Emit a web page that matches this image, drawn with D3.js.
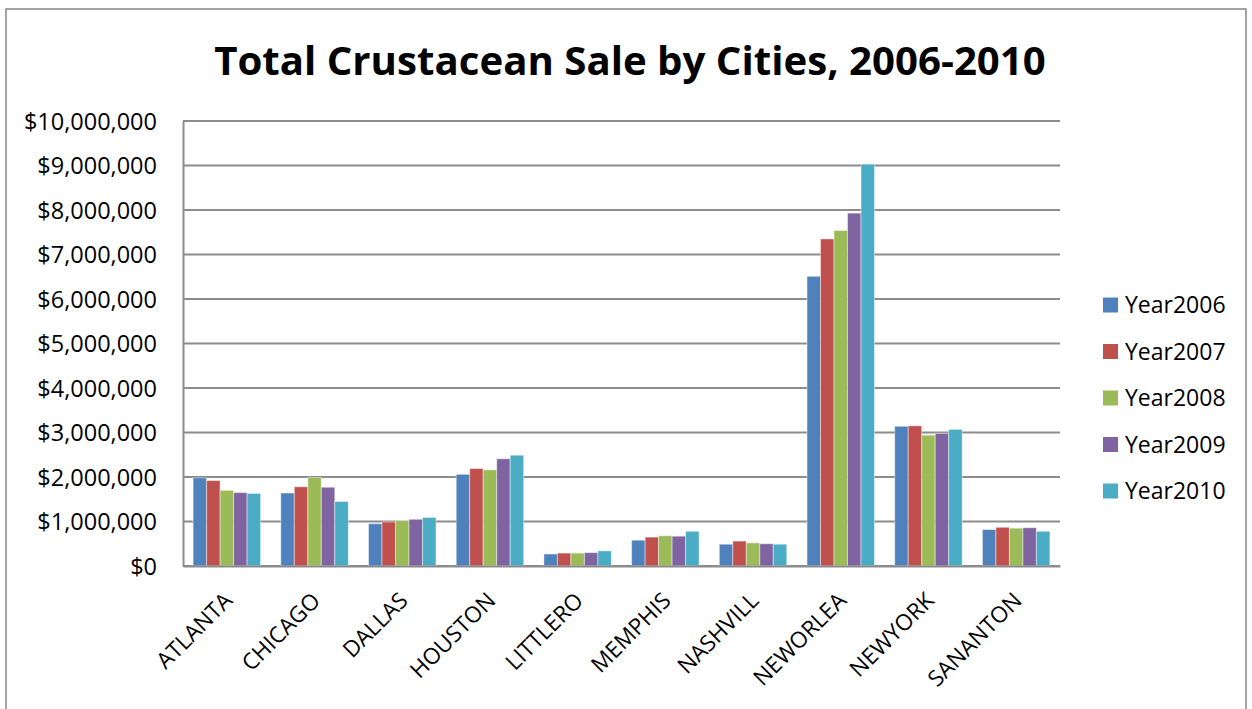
<!DOCTYPE html>
<html>
<head>
<meta charset="utf-8">
<script src="https://cdn.jsdelivr.net/npm/d3@7"></script>
<style>
  html, body { margin: 0; padding: 0; background: #fff; }
  svg { display: block; }
  svg text { font-family: "Open Sans", "Noto Sans", sans-serif; }
</style>
</head>
<body>
<svg id="chart" width="1252" height="709"></svg>
<script>
const categories = ["ATLANTA","CHICAGO","DALLAS","HOUSTON","LITTLERO","MEMPHIS","NASHVILL","NEWORLEA","NEWYORK","SANANTON"];
const seriesNames = ["Year2006","Year2007","Year2008","Year2009","Year2010"];
const year2006 = [1980000,1640000,950000,2060000,270000,580000,490000,6510000,3140000,820000];
const year2007 = [1920000,1780000,990000,2190000,290000,650000,560000,7350000,3150000,870000];
const year2008 = [1700000,1990000,1020000,2160000,290000,680000,520000,7540000,2940000,850000];
const year2009 = [1650000,1770000,1050000,2410000,300000,670000,500000,7930000,2980000,860000];
const year2010 = [1630000,1450000,1090000,2490000,340000,780000,490000,9030000,3070000,780000];
const seriesValues = [year2006, year2007, year2008, year2009, year2010];
const colors = ["#4F81BD","#C0504D","#9BBB59","#8064A2","#4BACC6"];
const yTicks = [0,1000000,2000000,3000000,4000000,5000000,6000000,7000000,8000000,9000000,10000000];

const svg = d3.select("#chart");
const plot = {left: 183, right: 1060, top: 121, bottom: 566};

// outer border
svg.append("rect").attr("x", 6).attr("y", 9).attr("width", 1240).attr("height", 720)
  .attr("fill", "#fff").attr("stroke", "#868686").attr("stroke-width", 1.5);

// title
svg.append("text").attr("x", 630).attr("y", 75).attr("text-anchor", "middle")
  .attr("font-size", 40.2).attr("font-weight", "bold").attr("fill", "#000")
  .text("Total Crustacean Sale by Cities, 2006-2010");

const x0 = d3.scaleBand().domain(categories).range([plot.left, plot.right]).paddingInner(0.2306).paddingOuter(0.1153);
const x1 = d3.scaleBand().domain(seriesNames).range([0, x0.bandwidth()]).padding(0);
const y = d3.scaleLinear().domain([0, 10000000]).range([plot.bottom, plot.top]);

// gridlines
svg.append("g").selectAll("line").data(yTicks).join("line")
  .attr("x1", plot.left).attr("x2", plot.right)
  .attr("y1", d => y(d)).attr("y2", d => y(d))
  .attr("stroke", "#8c8c8c").attr("stroke-width", 2);

// y axis
const fmt = d => "$" + d3.format(",")(d);
const yAxis = svg.append("g").attr("transform", `translate(${plot.left},0)`)
  .call(d3.axisLeft(y).tickValues(yTicks).tickFormat(fmt).tickSize(0).tickPadding(26))
  .attr("font-family", null);
yAxis.select(".domain").attr("stroke", "#8c8c8c").attr("stroke-width", 2);
yAxis.selectAll("text").attr("font-size", 23.5).attr("fill", "#000").attr("dy", "0.34em");

// bars
const groups = svg.append("g").selectAll("g").data(categories).join("g")
  .attr("transform", c => `translate(${x0(c)},0)`);
groups.selectAll("rect").data((c, i) => seriesNames.map((s, j) => ({s, v: seriesValues[j][i], j})))
  .join("rect")
  .attr("x", d => x1(d.s)).attr("width", x1.bandwidth())
  .attr("y", d => y(d.v)).attr("height", d => y(0) - y(d.v))
  .attr("fill", d => colors[d.j])
  .attr("stroke", "rgba(255,255,255,0.45)").attr("stroke-width", 1);

// x axis
const xAxis = svg.append("g").attr("transform", `translate(0,${plot.bottom})`)
  .call(d3.axisBottom(x0).tickSize(0).tickPadding(0))
  .attr("font-family", null);
xAxis.select(".domain").attr("stroke", "#8c8c8c").attr("stroke-width", 2);
xAxis.selectAll(".tick text")
  .attr("font-size", 22.5).attr("fill", "#000")
  .attr("text-anchor", "end")
  .attr("dy", 0)
  .attr("transform", "translate(7,36) rotate(-45)");

// legend
const legend = svg.append("g").attr("transform", "translate(1103,305)");
const li = legend.selectAll("g").data(seriesNames).join("g")
  .attr("transform", (d, i) => `translate(0,${i * 46.5})`);
li.append("rect").attr("x", 0).attr("y", -7.5).attr("width", 15).attr("height", 15)
  .attr("fill", (d, i) => colors[i]);
li.append("text").attr("x", 22).attr("y", 0).attr("dy", "0.36em")
  .attr("font-size", 23).attr("fill", "#000").text(d => d);
</script>
</body>
</html>
